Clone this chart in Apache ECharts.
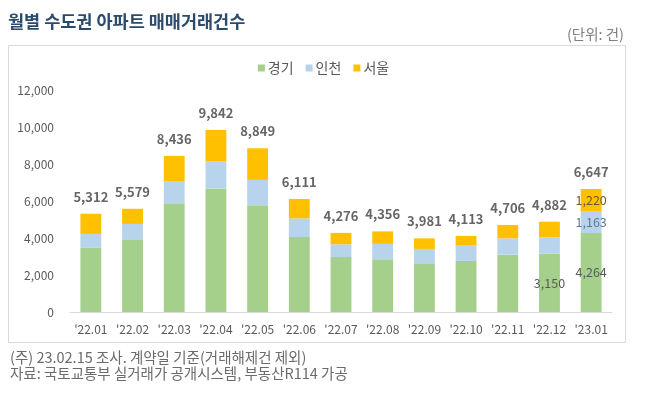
<!DOCTYPE html>
<html><head><meta charset="utf-8">
<script src="https://cdn.jsdelivr.net/npm/echarts@6/dist/echarts.min.js"></script>
<style>html,body{margin:0;padding:0;background:#fff}#c{width:647px;height:395px}</style>
</head><body><div id="c"></div>
<script>
const categories = ["'22.01","'22.02","'22.03","'22.04","'22.05","'22.06","'22.07","'22.08","'22.09","'22.10","'22.11","'22.12","'23.01"];
const gyeonggi = [3480, 3930, 5880, 6680, 5770, 4050, 2970, 2850, 2630, 2760, 3100, 3150, 4264];
const incheon  = [740, 830, 1170, 1450, 1370, 1010, 690, 830, 780, 830, 880, 880, 1163];
const seoul    = [1092, 819, 1386, 1712, 1709, 1051, 616, 676, 571, 523, 726, 852, 1220];
const totals   = [5312, 5579, 8436, 9842, 8849, 6111, 4276, 4356, 3981, 4113, 4706, 4882, 6647];
const yTicks = [0, 2000, 4000, 6000, 8000, 10000, 12000];

const FONT = "'Noto Sans CJK KR', 'Noto Sans', sans-serif";
const fmt = v => v.toLocaleString('en-US');
const lastIdx = categories.length - 1;

function seg(values, showIdx, color) {
  return values.map((v, i) => showIdx.includes(i)
    ? { value: v, label: { show: true, position: 'inside', formatter: fmt(v), color: color, fontSize: 12.5, fontFamily: FONT } }
    : v);
}

const chart = echarts.init(document.getElementById('c'), null, { renderer: 'canvas' });
chart.setOption({
  backgroundColor: '#fff',
  animation: false,
  textStyle: { fontFamily: FONT },
  graphic: [
    { type: 'rect', shape: { x: 8.5, y: 45.5, width: 617, height: 297 }, style: { fill: 'none', stroke: '#d9d9d9', lineWidth: 1 }, z: -1 },
    { type: 'text', left: 8, top: 13, style: { text: '월별 수도권 아파트 매매거래건수', font: "bold 17.5px 'Noto Sans CJK KR'", fill: '#2c4a6b' } },
    { type: 'text', right: 23, top: 27, style: { text: '(단위: 건)', font: "14.5px 'Noto Sans CJK KR'", fill: '#7f7f7f' } },
    { type: 'text', left: 10, top: 350, style: { text: '(주) 23.02.15 조사. 계약일 기준(거래해제건 제외)', font: "14.5px 'Noto Sans CJK KR'", fill: '#6b6b6b' } },
    { type: 'text', left: 10, top: 366, style: { text: '자료: 국토교통부 실거래가 공개시스템, 부동산R114 가공', font: "14.5px 'Noto Sans CJK KR'", fill: '#6b6b6b' } }
  ],
  legend: {
    top: 56, left: 'center',
    data: ['경기', '인천', '서울'],
    itemWidth: 7, itemHeight: 7, itemGap: 12,
    icon: 'rect',
    textStyle: { color: '#595959', fontSize: 14, fontFamily: FONT, padding: [0, 0, 0, -2] }
  },
  grid: { left: 70, right: 35, top: 90, bottom: 83 },
  xAxis: {
    type: 'category', data: categories,
    axisLine: { lineStyle: { color: '#d9d9d9' } },
    axisTick: { show: false },
    axisLabel: { interval: 0, color: '#595959', fontSize: 12, fontFamily: FONT, margin: 11 }
  },
  yAxis: {
    type: 'value', min: yTicks[0], max: yTicks[yTicks.length - 1], interval: 2000,
    splitLine: { show: false },
    axisLine: { show: false }, axisTick: { show: false },
    axisLabel: { color: '#595959', fontSize: 12, fontFamily: FONT, margin: 16, formatter: v => fmt(v) }
  },
  series: [
    { name: '경기', type: 'bar', stack: 't', barWidth: '50%', itemStyle: { color: '#a5d08c' }, data: seg(gyeonggi, [11, lastIdx], '#595959') },
    { name: '인천', type: 'bar', stack: 't', itemStyle: { color: '#b8d3ec' }, data: seg(incheon, [lastIdx], '#5f7891') },
    { name: '서울', type: 'bar', stack: 't', itemStyle: { color: '#ffc000' }, data: seg(seoul, [lastIdx], '#6b5a2a') },
    { name: 'total', type: 'scatter', data: totals, symbolSize: 1, itemStyle: { color: 'rgba(0,0,0,0)' }, silent: true,
      label: { show: true, position: 'top', distance: 10, formatter: p => fmt(p.value), color: '#404040', fontWeight: 'bold', fontSize: 13, fontFamily: FONT } }
  ]
});
</script></body></html>
